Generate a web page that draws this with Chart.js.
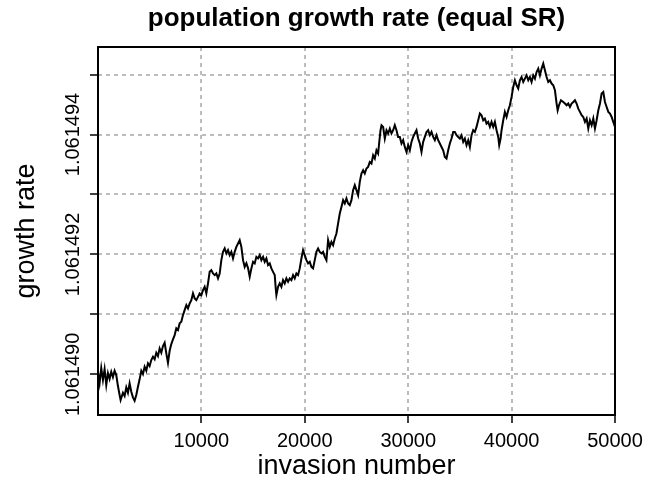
<!DOCTYPE html>
<html>
<head>
<meta charset="utf-8">
<title>population growth rate (equal SR)</title>
<script src="https://cdn.jsdelivr.net/npm/chart.js@4.4.1/dist/chart.umd.min.js"></script>
<style>
  html, body { margin: 0; padding: 0; background: #ffffff; }
  #chart { display: block; }
</style>
</head>
<body>
<canvas id="chart" width="647" height="489"></canvas>
<script>
// Invasion number (x) and the population growth rate after each invasion (y).
const invasionNumber = [
  1, 155, 316, 478, 639, 800, 962, 1123, 1284, 1445, 1607, 1768, 1929, 2091, 2187, 2413, 2575, 2736, 2897, 3058,
  3220, 3381, 3542, 3704, 3865, 4026, 4188, 4349, 4510, 4671, 4833, 4994, 5155, 5317, 5478, 5639, 5801, 5962, 6123, 6284,
  6446, 6607, 6768, 6930, 7091, 7252, 7414, 7575, 7736, 7897, 8059, 8220, 8381, 8543, 8704, 8865, 9027, 9188, 9349, 9511,
  9672, 9833, 9995, 10156, 10317, 10478, 10640, 10801, 10962, 11124, 11285, 11446, 11608, 11769, 11930, 12091, 12253, 12414, 12575, 12737,
  12898, 13059, 13221, 13382, 13543, 13704, 13866, 14027, 14188, 14350, 14511, 14672, 14834, 14995, 15156, 15317, 15479, 15640, 15801, 15963,
  16124, 16285, 16447, 16608, 16769, 16930, 17092, 17189, 17253, 17414, 17576, 17737, 17898, 18060, 18221, 18382, 18543, 18705, 18866, 19027,
  19189, 19350, 19511, 19673, 19834, 19995, 20157, 20318, 20479, 20640, 20802, 20963, 21124, 21286, 21447, 21608, 21770, 21931, 22092, 22254,
  22415, 22576, 22737, 22899, 23060, 23221, 23383, 23544, 23705, 23867, 24028, 24189, 24350, 24512, 24673, 24834, 24996, 25157, 25318, 25480,
  25641, 25802, 25963, 26125, 26286, 26447, 26609, 26770, 26931, 27093, 27187, 27323, 27420, 27576, 27738, 27899, 28060, 28222, 28383, 28544,
  28705, 28867, 29028, 29189, 29351, 29512, 29673, 29835, 29996, 30157, 30318, 30480, 30641, 30802, 30964, 31125, 31286, 31448, 31609, 31770,
  31931, 32093, 32254, 32415, 32577, 32738, 32899, 33061, 33222, 33383, 33544, 33706, 33867, 34028, 34190, 34351, 34512, 34674, 34835, 34996,
  35157, 35319, 35480, 35641, 35803, 35964, 36125, 36287, 36448, 36609, 36770, 36932, 37093, 37254, 37416, 37577, 37738, 37900, 38061, 38222,
  38384, 38545, 38706, 38802, 38937, 39029, 39190, 39351, 39513, 39674, 39835, 39997, 40158, 40319, 40481, 40642, 40803, 40964, 41126, 41287,
  41448, 41610, 41771, 41932, 42094, 42255, 42416, 42578, 42739, 42900, 43061, 43223, 43384, 43545, 43707, 43868, 44029, 44191, 44352, 44454,
  44580, 44774, 44997, 45159, 45320, 45481, 45643, 45804, 45965, 46127, 46288, 46449, 46610, 46772, 46933, 47094, 47256, 47417, 47578, 47740,
  47901, 48062, 48223, 48385, 48546, 48707, 48869, 49030, 49191, 49353, 49514, 49675, 49836, 50000
];

const growthRate = [
  1.061490038, 1.061489855, 1.061490105, 1.061489905, 1.061490088, 1.061489822, 1.061490022, 1.061489922, 1.061490043, 1.061489955,
  1.061490060, 1.061489988, 1.061489805, 1.061489655, 1.061489572, 1.061489693, 1.061489638, 1.061489783, 1.061489693, 1.061489850,
  1.061489710, 1.061489617, 1.061489560, 1.061489655, 1.061489793, 1.061489917, 1.061490060, 1.061490005, 1.061490127, 1.061490060,
  1.061490183, 1.061490138, 1.061490238, 1.061490293, 1.061490250, 1.061490360, 1.061490305, 1.061490433, 1.061490360, 1.061490472,
  1.061490527, 1.061490350, 1.061490193, 1.061490393, 1.061490505, 1.061490583, 1.061490655, 1.061490767, 1.061490738, 1.061490850,
  1.061490877, 1.061490988, 1.061491072, 1.061491155, 1.061491100, 1.061491183, 1.061491238, 1.061491350, 1.061491267, 1.061491238,
  1.061491293, 1.061491350, 1.061491322, 1.061491405, 1.061491460, 1.061491350, 1.061491517, 1.061491710, 1.061491738, 1.061491683,
  1.061491655, 1.061491683, 1.061491600, 1.061491683, 1.061491905, 1.061492043, 1.061492100, 1.061492017, 1.061492072, 1.061491988,
  1.061492043, 1.061491933, 1.061492043, 1.061492127, 1.061492183, 1.061492238, 1.061492127, 1.061491905, 1.061491793, 1.061491855,
  1.061491772, 1.061491627, 1.061491767, 1.061491877, 1.061491850, 1.061491960, 1.061491933, 1.061491988, 1.061491905, 1.061491960,
  1.061491877, 1.061491933, 1.061491822, 1.061491850, 1.061491767, 1.061491710, 1.061491655, 1.061491433, 1.061491322, 1.061491460,
  1.061491517, 1.061491460, 1.061491572, 1.061491517, 1.061491600, 1.061491543, 1.061491600, 1.061491572, 1.061491655, 1.061491600,
  1.061491683, 1.061491655, 1.061491767, 1.061491933, 1.061492072, 1.061491988, 1.061491905, 1.061491850, 1.061491877, 1.061491793,
  1.061491767, 1.061491905, 1.061492043, 1.061492100, 1.061492043, 1.061492017, 1.061492043, 1.061491960, 1.061491905, 1.061492238,
  1.061492127, 1.061492210, 1.061492155, 1.061492267, 1.061492350, 1.061492517, 1.061492683, 1.061492793, 1.061492905, 1.061492850,
  1.061492933, 1.061492850, 1.061492822, 1.061492905, 1.061493072, 1.061493155, 1.061493072, 1.061492988, 1.061493210, 1.061493350,
  1.061493405, 1.061493350, 1.061493433, 1.061493460, 1.061493543, 1.061493517, 1.061493655, 1.061493600, 1.061493738, 1.061493683,
  1.061493850, 1.061494072, 1.061494155, 1.061494127, 1.061493933, 1.061494072, 1.061494017, 1.061494100, 1.061494017, 1.061494072,
  1.061494155, 1.061494072, 1.061493960, 1.061493960, 1.061493850, 1.061493905, 1.061493793, 1.061493710, 1.061493822, 1.061493738,
  1.061493877, 1.061493960, 1.061494017, 1.061494072, 1.061493933, 1.061493850, 1.061493710, 1.061493877, 1.061493960, 1.061494043,
  1.061494072, 1.061493988, 1.061494043, 1.061493960, 1.061493905, 1.061493988, 1.061493905, 1.061493850, 1.061493793, 1.061493738,
  1.061493627, 1.061493600, 1.061493738, 1.061493850, 1.061493933, 1.061494043, 1.061494043, 1.061493988, 1.061493960, 1.061493933,
  1.061493988, 1.061493877, 1.061493933, 1.061493822, 1.061493905, 1.061493793, 1.061493988, 1.061494072, 1.061494043, 1.061494127,
  1.061494238, 1.061494350, 1.061494322, 1.061494238, 1.061494267, 1.061494183, 1.061494210, 1.061494127, 1.061494210, 1.061494127,
  1.061494210, 1.061494072, 1.061493960, 1.061493822, 1.061493933, 1.061494072, 1.061494238, 1.061494377, 1.061494293, 1.061494405,
  1.061494488, 1.061494627, 1.061494793, 1.061494905, 1.061494822, 1.061494767, 1.061494905, 1.061494960, 1.061494877, 1.061494933,
  1.061494988, 1.061494905, 1.061494960, 1.061494877, 1.061494988, 1.061494933, 1.061495043, 1.061495100, 1.061494988, 1.061495100,
  1.061495183, 1.061495072, 1.061494960, 1.061494877, 1.061494905, 1.061494850, 1.061494822, 1.061494738, 1.061494517, 1.061494405,
  1.061494488, 1.061494572, 1.061494543, 1.061494517, 1.061494488, 1.061494517, 1.061494460, 1.061494517, 1.061494543, 1.061494572,
  1.061494517, 1.061494433, 1.061494377, 1.061494322, 1.061494293, 1.061494210, 1.061494267, 1.061494100, 1.061494238, 1.061494155,
  1.061494267, 1.061494100, 1.061494238, 1.061494405, 1.061494517, 1.061494683, 1.061494710, 1.061494543, 1.061494460, 1.061494377,
  1.061494350, 1.061494293, 1.061494210, 1.061494127
];

// Axis ticks; the y axis marks every 1e-6 but labels only every other one.
const xTicks = [10000, 20000, 30000, 40000, 50000];
const xTickLabels = ['10000', '20000', '30000', '40000', '50000'];
const yTicks = [1.061490, 1.061491, 1.061492, 1.061493, 1.061494, 1.061495];
const yTickLabels = ['1.061490', '', '1.061492', '', '1.061494', ''];

const FONT = "'Liberation Sans', Arial, Helvetica, sans-serif";
Chart.defaults.font.family = FONT;
Chart.defaults.color = '#000000';

// Closed box around the plotting region.
const plotFrame = {
  id: 'plotFrame',
  afterDatasetsDraw(chart) {
    const { ctx, chartArea: a } = chart;
    ctx.save();
    ctx.strokeStyle = '#000000';
    ctx.lineWidth = 2;
    ctx.strokeRect(a.left, a.top, a.right - a.left, a.bottom - a.top);
    ctx.restore();
  }
};

const gridStyle = {
  color: '#bcbcbc',
  lineWidth: 2,
  drawTicks: true,
  tickLength: 8,
  tickColor: '#000000',
  tickWidth: 1.5
};

new Chart(document.getElementById('chart'), {
  type: 'line',
  data: {
    datasets: [{
      data: invasionNumber.map((x, i) => ({ x: x, y: growthRate[i] })),
      borderColor: '#000000',
      borderWidth: 2,
      pointRadius: 0,
      tension: 0,
      fill: false
    }]
  },
  options: {
    responsive: false,
    animation: false,
    devicePixelRatio: 1,
    layout: { padding: { left: 0, right: 32, top: 0, bottom: 0 } },
    plugins: {
      legend: { display: false },
      tooltip: { enabled: false },
      title: {
        display: true,
        text: 'population growth rate (equal SR)',
        fullSize: false,
        color: '#000000',
        font: { family: FONT, size: 26, weight: 'bold' },
        padding: { top: 3.6, bottom: 12.2 }
      }
    },
    scales: {
      x: {
        type: 'linear',
        min: 1,
        max: 50000,
        afterBuildTicks: s => { s.ticks = xTicks.map(v => ({ value: v })); },
        afterFit: s => { s.height = 74; },
        ticks: {
          autoSkip: false,
          minRotation: 0,
          maxRotation: 0,
          padding: 2,
          color: '#000000',
          font: { family: FONT, size: 20, lineHeight: 1.6 },
          callback: (v, i) => xTickLabels[i]
        },
        grid: gridStyle,
        border: { display: false, dash: [4, 4] },
        title: {
          display: true,
          text: 'invasion number',
          color: '#000000',
          font: { family: FONT, size: 27 },
          padding: { top: 0, bottom: 5.8 }
        }
      },
      y: {
        type: 'linear',
        min: 1.061489322,
        max: 1.06149546,
        afterBuildTicks: s => { s.ticks = yTicks.map(v => ({ value: v })); },
        afterFit: s => { s.width = 98; },
        ticks: {
          autoSkip: false,
          minRotation: 90,
          maxRotation: 90,
          crossAlign: 'center',
          padding: -24.7,
          color: '#000000',
          font: { family: FONT, size: 20 },
          callback: (v, i) => yTickLabels[i]
        },
        grid: gridStyle,
        border: { display: false, dash: [4, 4] },
        title: {
          display: true,
          text: 'growth rate',
          color: '#000000',
          font: { family: FONT, size: 27 },
          padding: { top: 10.8, bottom: 0 }
        }
      }
    }
  },
  plugins: [plotFrame]
});
</script>
</body>
</html>
